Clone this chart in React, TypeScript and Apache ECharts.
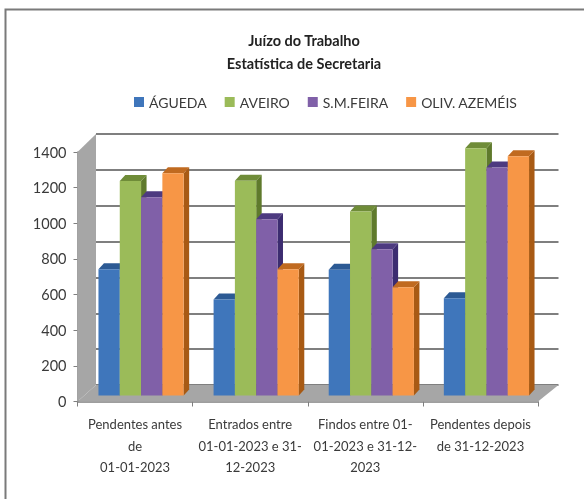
import React, { useEffect, useRef } from "react";
import * as echarts from "echarts";

const categories = [
  "Pendentes antes\nde\n01-01-2023",
  "Entrados entre\n01-01-2023 e 31-\n12-2023",
  "Findos entre 01-\n01-2023 e 31-12-\n2023",
  "Pendentes depois\nde 31-12-2023",
];
const seriesNames = ["ÁGUEDA", "AVEIRO", "S.M.FEIRA", "OLIV. AZEMÉIS"];
const agueda = [708, 539, 705, 545];
const aveiro = [1203, 1205, 1033, 1387];
const smFeira = [1112, 989, 820, 1280];
const olivAzemeis = [1247, 708, 607, 1343];
const yTicks = { min: 0, max: 1400, step: 200 };
const faceColors = ["#3f76bb", "#9bbb59", "#8060a8", "#f79646"];
const topColors = ["#2c5a94", "#6f8c38", "#4d3a80", "#c06a20"];
const sideColors = ["#234a80", "#5f7a2c", "#3c2c70", "#a85a14"];
const FONT = "Lato, 'Liberation Sans', sans-serif";
const TEXT = "#3a3a3a";
const GRID = "#7f7f7f";

const BAR_RATIO = 0.185;
const DX = 5.5;
const DY = 6;
const PLANE_X = 6;
const PLANE_Y = -6;

function makeSeries(name: string, data: number[], idx: number) {
  return {
    name,
    type: "custom",
    xAxisIndex: 0,
    yAxisIndex: 0,
    z: 5 + idx,
    itemStyle: { color: faceColors[idx] },
    encode: { x: 0, y: 1 },
    data: data.map((v, i) => [i, v]),
    renderItem(_p: any, api: any) {
      const cat = api.value(0);
      const top = api.coord([cat, api.value(1)]);
      const base = api.coord([cat, 0]);
      const band = api.size([1, 0])[0];
      const w = band * BAR_RATIO;
      const x = top[0] + PLANE_X + (idx - 2) * w;
      const yT = top[1] + PLANE_Y;
      const yB = base[1] + PLANE_Y;
      return {
        type: "group",
        children: [
          {
            type: "polygon",
            shape: { points: [[x + w, yT], [x + w + DX, yT - DY], [x + w + DX, yB - DY], [x + w, yB]] },
            style: { fill: sideColors[idx] },
          },
          {
            type: "polygon",
            shape: { points: [[x, yT], [x + DX, yT - DY], [x + w + DX, yT - DY], [x + w, yT]] },
            style: { fill: topColors[idx] },
          },
          { type: "rect", shape: { x, y: yT, width: w, height: yB - yT }, style: { fill: faceColors[idx] } },
        ],
      };
    },
  };
}

export default function App() {
  const ref = useRef<HTMLDivElement>(null);
  useEffect(() => {
    const chart = echarts.init(ref.current!, null, { renderer: "svg" });
    chart.setOption({
      animation: false,
      backgroundColor: "#ffffff",
      title: {
        text: "Juízo do Trabalho\nEstatística de Secretaria",
        left: 299,
        top: 24,
        textAlign: "center",
        textStyle: { fontFamily: FONT, fontSize: 14.5, fontWeight: "bold", color: "#222", lineHeight: 23 },
      },
      legend: {
        left: 134,
        top: 95,
        padding: 0,
        itemWidth: 10,
        itemHeight: 10,
        itemGap: 18,
        icon: "rect",
        data: seriesNames,
        textStyle: { fontFamily: FONT, fontSize: 14, color: TEXT },
      },
      grid: [
        { left: 77.5, top: 152, width: 460.5, height: 249.5 },
        { left: 96, top: 134, width: 462.5, height: 251 },
      ],
      xAxis: [
        {
          gridIndex: 0,
          type: "category",
          data: categories,
          axisLine: { lineStyle: { color: GRID, width: 1.5 } },
          axisTick: { show: true, length: 5, alignWithLabel: false, lineStyle: { color: GRID } },
          axisLabel: { fontFamily: FONT, fontSize: 13, color: TEXT, lineHeight: 21.5, margin: 12, interval: 0 },
          splitLine: { show: false },
        },
        {
          gridIndex: 1,
          type: "category",
          data: categories,
          axisLine: { show: false },
          axisTick: { show: false },
          axisLabel: { show: false },
          splitLine: { show: false },
        },
      ],
      yAxis: [
        {
          gridIndex: 0,
          type: "value",
          min: yTicks.min,
          max: yTicks.max,
          interval: yTicks.step,
          axisLine: { show: true, lineStyle: { color: GRID, width: 1.5 } },
          axisTick: { show: true, length: 4, lineStyle: { color: GRID } },
          axisLabel: { fontFamily: FONT, fontSize: 14.5, color: TEXT, margin: 11, formatter: (v: number) => String(v) },
          splitLine: { show: false },
        },
        {
          gridIndex: 1,
          type: "value",
          min: yTicks.min,
          max: yTicks.max,
          interval: yTicks.step,
          axisLine: { show: false },
          axisTick: { show: false },
          axisLabel: { show: false },
          splitLine: { show: true, lineStyle: { color: GRID, width: 2 } },
        },
      ],
      graphic: [
        {
          type: "polyline",
          z: 1,
          shape: { points: [[5.5, 499], [5.5, 9.5], [584, 9.5]] },
          style: { stroke: "#7a7a7a", lineWidth: 2, fill: "none" },
        },
        {
          type: "polygon",
          z: 1,
          shape: { points: [[77.5, 152], [96, 134], [96, 385], [77.5, 401.5]] },
          style: { fill: "#a6a6a6" },
        },
        {
          type: "polygon",
          z: 1,
          shape: { points: [[77.5, 401.5], [96, 385], [558.5, 385], [538, 401.5]] },
          style: { fill: "#a6a6a6" },
        },
      ],
      series: [
        makeSeries(seriesNames[0], agueda, 0),
        makeSeries(seriesNames[1], aveiro, 1),
        makeSeries(seriesNames[2], smFeira, 2),
        makeSeries(seriesNames[3], olivAzemeis, 3),
      ],
    });
    return () => chart.dispose();
  }, []);
  return (
    <div
      ref={ref}
      style={{ position: "absolute", left: 0, top: 0, width: 584, height: 499, filter: "blur(0.7px)" }}
    />
  );
}
